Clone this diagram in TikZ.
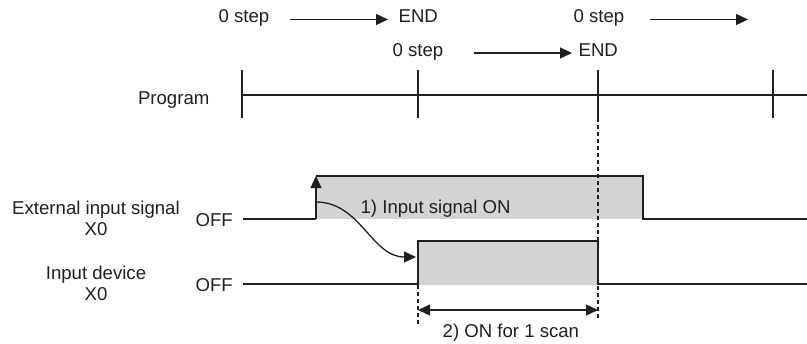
\documentclass[tikz,border=0pt]{standalone}
\usepackage{fontspec}
\setmainfont{Liberation Sans}
\usetikzlibrary{arrows.meta}
\definecolor{sigfill}{RGB}{211,212,214}
\definecolor{ink}{RGB}{35,31,32}

\begin{document}
\begin{tikzpicture}[x=0.5pt,y=-0.5pt,line width=0.65pt,draw=ink,
	>={Triangle[length=6pt,width=5.5pt]},
	txt/.style={inner sep=0pt,text=ink,font=\fontsize{9.3}{10.5}\selectfont},
	guide/.style={dash pattern=on 2pt off 1.5pt}]
	\useasboundingbox (0,0) rectangle (807,343);
	\fill[sigfill] (316,176) rectangle (643,219);
	\fill[sigfill] (418,241) rectangle (598,285);
	\node (s1) at (218,22.5)	[txt, anchor=base west]	{0 step};
	\node (e1) at (398,22.5)	[txt, anchor=base west]	{END};
	\node (s2) at (392,56)	[txt, anchor=base west]	{0 step};
	\node (e2) at (578,56)	[txt, anchor=base west]	{END};
	\node (s3) at (573,22.5)	[txt, anchor=base west]	{0 step};
	\coordinate (a3) at (748,19.5);
	\node (prog) at (210,104)	[txt, anchor=base east]	{Program};
	\node (ext) at (96,218)	[txt, align=center]	{External input signal\\X0};
	\node (dev) at (96,283)	[txt, align=center]	{Input device\\X0};
	\node (off1) at (195,226)	[txt, anchor=base west]	{OFF};
	\node (off2) at (195,291)	[txt, anchor=base west]	{OFF};
	\node (on) at (360,213)	[txt, anchor=base west]	{1) Input signal ON};
	\node (scan) at (442,337)	[txt, anchor=base west]	{2) ON for 1 scan};
	\coordinate (up) at (316,202);
	\coordinate (dn) at (416,257);
	\coordinate (w1) at (418,310);
	\coordinate (w2) at (598,310);
	\draw[->, shorten <=10pt, shorten >=5pt] ([yshift=1.5pt]s1.base east) -- ([yshift=1.5pt]e1.base west);
	\draw[->, shorten <=15pt, shorten >=3pt] ([yshift=1.5pt]s2.base east) -- ([yshift=1.5pt]e2.base west);
	\draw[->, shorten <=12.5pt] ([yshift=1.5pt]s3.base east) -- (a3);
	\draw (242,95) -- (807,95);
	\foreach \x in {242,418,598,773}
		\draw (\x,70) -- (\x,118);
	\draw (243,219) -- (316,219);
	\draw[->] (316,219) -- (316,176);
	\draw (316,176) -- (643,176) -- (643,219) -- (807,219);
	\draw (243,284) -- (418,284) -- (418,241) -- (598,241) -- (598,284) -- (807,284);
	\draw[guide] (598,118) -- (598,320);
	\draw[guide] (418,285) -- (418,325);
	\draw[->] (up) to[out=0, in=180] (dn);
	\draw[<->] (w1) -- (w2);
\end{tikzpicture}
\end{document}
